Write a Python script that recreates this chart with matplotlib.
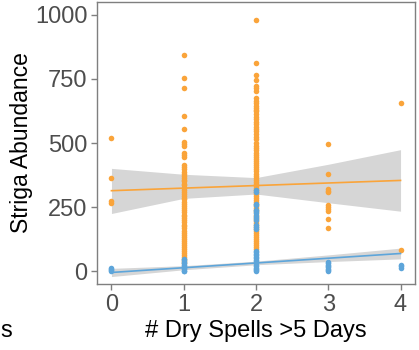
import numpy as np
import matplotlib
matplotlib.use('Agg')
import matplotlib.pyplot as plt

plt.rcParams['font.family'] = ['Liberation Sans', 'DejaVu Sans']

# orange group: dry spell count -> striga abundance
orange_x0 = [520, 365, 275, 265]
orange_x1 = [844, 755, 713, 607, 556, 505, 497, 488, 461, 453, 446, 414, 405, 397, 388,
             380, 372, 365, 357, 350, 342, 335, 326, 318, 310, 302, 295, 287, 280, 271,
             263, 255, 246, 238, 230, 221, 214, 206, 198, 190, 182, 175, 167, 158, 150,
             142, 135, 126, 118, 110, 102, 95, 86, 78, 70, 62, 55, 47, 40, 33]
orange_x2 = [980, 814, 766, 746, 723, 713, 704, 675, 665, 655, 645, 637, 629, 623, 613,
             603, 593, 583, 575, 564, 555, 545, 535, 525, 515, 500, 490, 481, 473, 461,
             453, 445, 437, 429, 421, 413, 405, 397, 389, 381, 373, 365, 357, 349, 341,
             333, 325, 317, 309, 301, 293, 285, 277, 269, 261, 253, 245, 237, 229, 221,
             213, 205, 197, 189, 181, 173, 165, 157, 149, 141, 133, 125, 117, 109, 101, 93, 85]
orange_x3 = [496, 379, 321, 314, 308, 260, 251, 242, 234, 205, 168]
orange_x4 = [656, 82]

# blue group
blue_x0 = [12, 8, 4, 0]
blue_x1 = [49, 43, 37, 31, 25, 19, 13, 7, 2, 0]
blue_x2 = [316, 309, 262, 258, 240, 233, 227, 215, 208, 200, 180, 172, 165,
           80, 74, 68, 62, 56, 50, 44, 38, 32, 26, 20, 14, 8, 3, 0]
blue_x3 = [35, 30, 25, 20, 15, 10, 5, 0]
blue_x4 = [26, 20, 14]

# fitted lines and confidence ribbons read at x = 0..4
fit_x = [0, 1, 2, 3, 4]
orange_fit = [314, 324, 334, 344, 354]
orange_lo = [225, 284, 301, 267, 234]
orange_hi = [401, 378, 365, 417, 474]
blue_fit = [-5, 13.5, 32, 50.5, 69]
blue_lo = [-21, 5.5, 25, 37.5, 48]
blue_hi = [11, 21.5, 39, 63.5, 90]

orange = '#FAA43A'
blue = '#5DA5DA'


def stack(cols):
    xs, ys = [], []
    for i, c in enumerate(cols):
        xs += [i] * len(c)
        ys += c
    return xs, ys


ox, oy = stack([orange_x0, orange_x1, orange_x2, orange_x3, orange_x4])
bx, by = stack([blue_x0, blue_x1, blue_x2, blue_x3, blue_x4])

fig = plt.figure(figsize=(4.19, 3.5), dpi=100)
ax = fig.add_axes([97 / 419, 1 - 284 / 350, 318 / 419, 282 / 350])

ax.fill_between(fit_x, orange_lo, orange_hi, color='#D6D6D6', lw=0, zorder=1)
ax.fill_between(fit_x, blue_lo, blue_hi, color='#D6D6D6', lw=0, zorder=1)
ax.scatter(ox, oy, s=16, color=orange, lw=0, zorder=2)
ax.scatter(bx, by, s=16, color=blue, lw=0, zorder=3)
ax.plot(fit_x, orange_fit, color=orange, lw=1.2, zorder=4)
ax.plot(fit_x, blue_fit, color=blue, lw=1.2, zorder=4)

ax.set_xlim(-0.2, 4.2)
ax.set_ylim(-50, 1050)
ax.set_xticks([0, 1, 2, 3, 4])
ax.set_yticks([0, 250, 500, 750, 1000])
ax.tick_params(colors='#7F7F7F', labelcolor='#4D4D4D', labelsize=17, length=4, width=1, pad=3)
for s in ax.spines.values():
    s.set_color('#7F7F7F')
    s.set_linewidth(1)

ax.set_xlabel('# Dry Spells >5 Days', fontsize=17, color='black', labelpad=3)
ax.set_ylabel('Striga Abundance', fontsize=16.5, color='black', labelpad=1)

# tail of the neighbouring panel's label
fig.text(0.0, 1 - 331 / 350, 's', fontsize=17, ha='left', va='center')

fig.savefig('out.png', dpi=100)
